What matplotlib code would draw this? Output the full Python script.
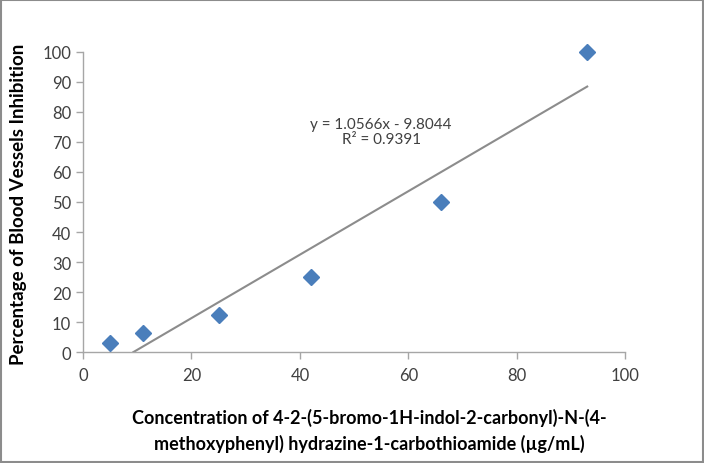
import numpy as np
import matplotlib.pyplot as plt
from matplotlib.patches import Rectangle

# data
conc = [5, 11, 25, 42, 66, 93]
inhibition = [3.125, 6.25, 12.5, 25, 50, 100]
x_ticks = [0, 20, 40, 60, 80, 100]
y_ticks = [0, 10, 20, 30, 40, 50, 60, 70, 80, 90, 100]

plt.rcParams['font.family'] = ['Lato', 'DejaVu Sans']

fig = plt.figure(figsize=(7.04, 4.64), dpi=100)
ax = fig.add_axes([0.118, 0.239, 0.770, 0.647])

# linear trend line fitted to the points
slope, intercept = np.polyfit(conc, inhibition, 1)
x0 = -intercept / slope
x_fit = np.array([x0, max(conc)])
ax.plot(x_fit, slope * x_fit + intercept, color='#8c8c8c', lw=1.5, zorder=2)

ax.plot(conc, inhibition, linestyle='none', marker='D', markersize=8.5,
        color='#4a7ebb', markeredgecolor='#4a7ebb', zorder=3, clip_on=False)

ax.text(55, 73.5, 'y = 1.0566x - 9.8044\nR² = 0.9391',
        fontsize=11, color='#404040', ha='center', va='center', linespacing=1.15)

ax.set_xlim(0, 100)
ax.set_ylim(0, 100)
ax.set_xticks(x_ticks)
ax.set_yticks(y_ticks)
ax.tick_params(axis='both', colors='#a6a6a6', labelcolor='#404040',
               labelsize=12, length=5, width=1, direction='out')
ax.tick_params(axis='x', pad=6)
for side in ['top', 'right']:
    ax.spines[side].set_visible(False)
for side in ['left', 'bottom']:
    ax.spines[side].set_color('#a6a6a6')
    ax.spines[side].set_linewidth(1)

fig.text(0.525, 0.071, 'Concentration of 4-2-(5-bromo-1H-indol-2-carbonyl)-N-(4-\n'
         'methoxyphenyl) hydrazine-1-carbothioamide (µg/mL)',
         fontsize=13, fontweight='bold', color='black', ha='center', va='center',
         linespacing=1.55)
fig.text(0.026, 0.56, 'Percentage of Blood Vessels Inhibition', fontsize=13.5,
         fontweight='bold', color='black', rotation=90, ha='center', va='center')

fig.patches.append(Rectangle((0.002, 0.002), 0.996, 0.996, transform=fig.transFigure,
                             fill=False, edgecolor='#8c8c8c', lw=1.5))

fig.savefig('out.png', dpi=100)
